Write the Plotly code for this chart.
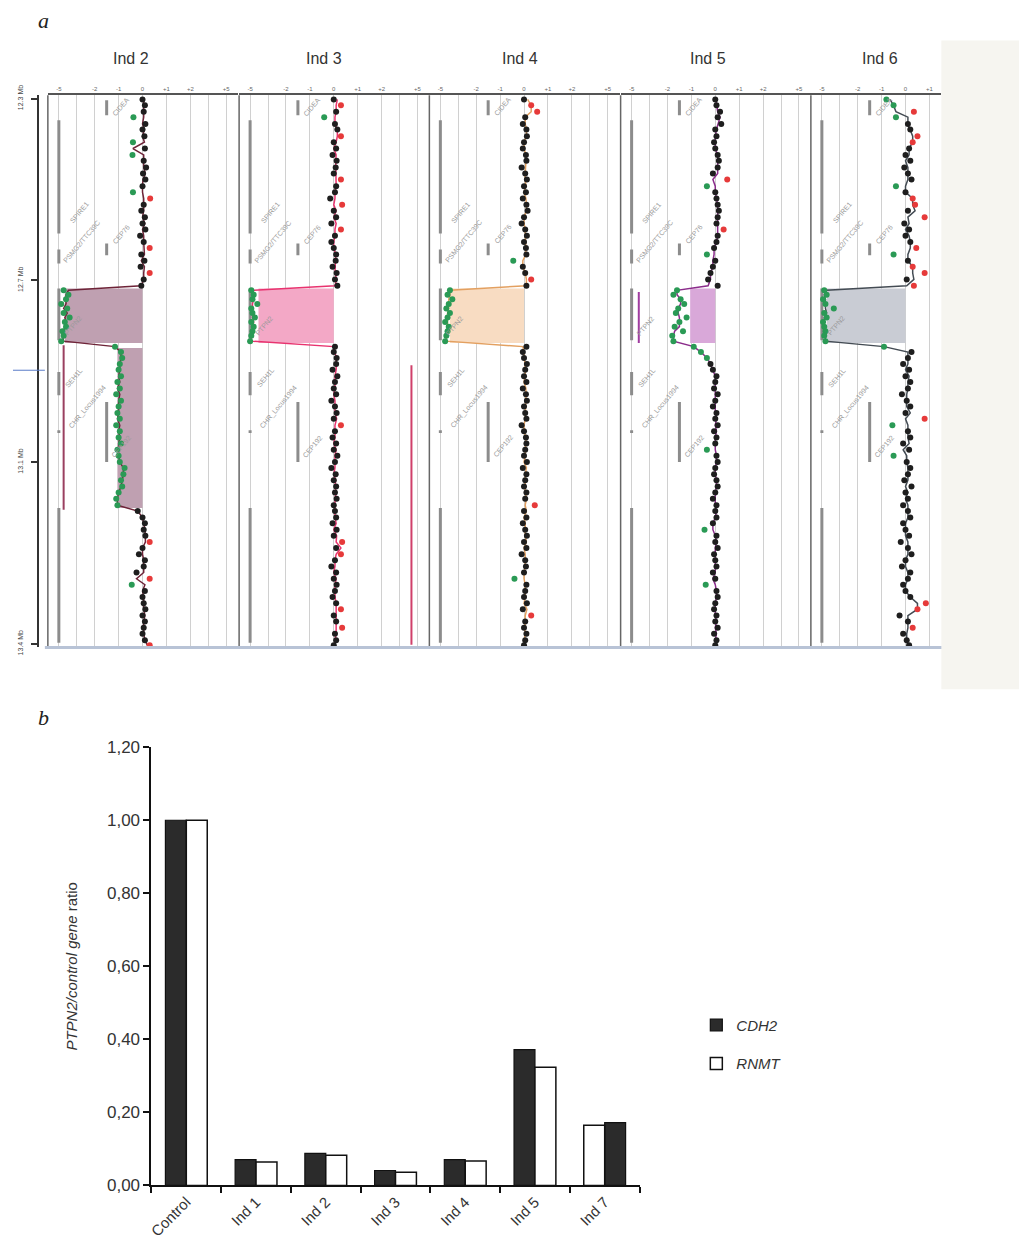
import plotly.graph_objects as go
import pandas as pd

W, H = 1027, 1256

# ---------------- Panel a data ----------------
ind_names = ["Ind 2", "Ind 3", "Ind 4", "Ind 5", "Ind 6"]

probe_mb = [
    12.302, 12.315, 12.329, 12.341, 12.356, 12.368, 12.383, 12.396, 12.410, 12.424, 12.437,
    12.452, 12.465, 12.478, 12.493, 12.506, 12.520, 12.534, 12.547, 12.561, 12.575, 12.588,
    12.602, 12.616, 12.629, 12.643, 12.657, 12.670, 12.684, 12.698, 12.712,
    12.722, 12.732, 12.742, 12.752, 12.762, 12.772, 12.782, 12.792, 12.802, 12.812, 12.822, 12.834,
    12.846, 12.858, 12.871, 12.884, 12.897, 12.911, 12.924, 12.938, 12.951, 12.965, 12.978,
    12.992, 13.005, 13.019, 13.032, 13.046, 13.059, 13.073, 13.086, 13.100, 13.113, 13.127,
    13.140, 13.154, 13.167, 13.181, 13.195,
    13.208, 13.222, 13.235, 13.249, 13.262, 13.276, 13.289, 13.303, 13.316, 13.330, 13.343,
    13.357, 13.370, 13.384, 13.397, 13.411, 13.424, 13.438, 13.451, 13.465, 13.478, 13.492, 13.503,
]

ratio_ind2 = [
    0.00, 0.10, 0.05, -0.38, 0.12, 0.00, 0.08, -0.40, 0.10, -0.42, 0.05, 0.15, 0.02, 0.12, 0.00, -0.40,
    0.32, 0.05, -0.05, 0.10, 0.00, 0.12, -0.10, 0.05, 0.30, -0.05, 0.08, -0.08, 0.30, 0.05, -0.05,
    -3.30, -3.10, -3.20, -3.40, -3.15, -3.30, -3.05, -3.25, -3.20, -3.35, -3.30, -3.40,
    -1.15, -0.90, -0.85, -0.95, -1.00, -0.90, -1.05, -0.95, -1.10, -0.90, -1.00, -1.05, -0.95, -1.10,
    -0.95, -1.00, -0.90, -1.05, -1.00, -0.95, -0.75, -0.80, -0.90, -0.85, -1.00, -1.10, -1.05,
    -0.20, 0.00, 0.10, 0.05, 0.12, 0.30, 0.00, -0.15, 0.10, 0.05, -0.25, 0.30, -0.45, 0.10, 0.00,
    0.05, 0.12, 0.00, 0.10, 0.05, 0.00, 0.10, 0.30,
]
ratio_ind3 = [
    0.00, 0.30, 0.10, -0.40, 0.05, 0.15, 0.30, 0.00, 0.10, -0.05, 0.12, 0.08, 0.00, 0.30, 0.10, 0.05,
    -0.15, 0.35, 0.00, 0.10, -0.10, 0.30, 0.05, -0.10, 0.00, 0.10, 0.08, -0.05, 0.12, 0.05, 0.15,
    -3.45, -3.35, -3.40, -3.20, -3.45, -3.40, -3.30, -3.45, -3.35, -3.40, -3.45, -3.50,
    0.05, 0.00, 0.12, 0.10, -0.05, 0.15, 0.05, 0.00, 0.10, -0.10, 0.05, 0.12, 0.00, 0.30, 0.05, -0.05,
    0.10, 0.00, 0.15, 0.05, -0.10, 0.08, 0.00, 0.10, 0.05, 0.12, 0.00,
    0.05, 0.10, -0.05, 0.12, 0.00, 0.35, 0.10, 0.30, 0.05, -0.10, 0.10, 0.00, 0.12, 0.05, -0.05, 0.10,
    0.30, 0.00, 0.10, 0.35, 0.05, 0.10, 0.00,
]
ratio_ind4 = [
    0.00, 0.30, 0.55, 0.05, -0.05, 0.10, 0.12, 0.00, -0.05, 0.08, 0.10, -0.10, 0.05, 0.12, 0.00, 0.08,
    -0.05, 0.10, 0.15, 0.00, -0.10, 0.05, 0.12, 0.00, 0.08, 0.10, -0.45, -0.05, 0.05, 0.30, 0.10,
    -3.10, -3.20, -3.00, -3.15, -3.25, -3.10, -3.20, -3.30, -3.15, -3.20, -3.25, -3.30,
    0.10, -0.05, 0.00, 0.12, 0.05, 0.00, 0.10, -0.05, 0.08, 0.12, 0.00, 0.05, 0.10, -0.10, 0.00, 0.08,
    0.10, 0.05, 0.00, 0.12, -0.05, 0.10, 0.05, 0.00, 0.10, 0.05, 0.45,
    0.00, 0.10, -0.05, 0.05, 0.12, 0.00, 0.10, -0.10, 0.05, 0.08, 0.00, -0.40, 0.10, 0.05, 0.00, 0.12,
    -0.05, 0.30, 0.05, 0.00, 0.10, 0.05, 0.00,
]
ratio_ind5 = [
    0.00, 0.05, 0.20, 0.10, 0.25, 0.00, 0.05, -0.05, 0.00, 0.10, 0.15, 0.10, -0.10, 0.50, -0.35, 0.00,
    0.05, 0.10, 0.15, 0.10, 0.05, 0.35, 0.10, 0.05, -0.05, -0.35, 0.00, -0.10, -0.20, -0.30, 0.10,
    -1.60, -1.75, -1.45, -1.30, -1.55, -1.65, -1.20, -1.50, -1.70, -1.35, -1.80, -1.75,
    -0.90, -0.60, -0.35, -0.20, -0.10, 0.05, 0.00, -0.05, 0.10, 0.00, -0.10, 0.05, 0.00, 0.10, -0.05,
    0.05, 0.00, -0.35, 0.05, 0.10, 0.00, -0.05, 0.05, 0.10, 0.00, -0.10, 0.05,
    0.00, 0.05, -0.10, -0.45, 0.05, 0.00, 0.10, -0.05, 0.00, 0.05, -0.10, 0.00, -0.40, 0.05, 0.10, 0.00,
    -0.05, 0.05, 0.00, 0.10, -0.05, 0.05, 0.00,
]
ratio_ind6 = [
    -0.80, -0.50, 0.35, -0.40, 0.10, 0.20, 0.50, 0.30, 0.15, 0.00, 0.20, -0.05, 0.10, 0.25, -0.40, 0.00,
    0.30, 0.40, 0.10, 0.80, -0.05, 0.15, 0.00, 0.20, 0.45, -0.50, 0.10, 0.30, 0.80, 0.05, 0.35,
    -3.40, -3.30, -3.45, -3.35, -3.00, -3.40, -3.30, -3.45, -3.40, -3.35, -3.40, -3.35,
    -0.90, 0.25, 0.10, -0.10, 0.15, 0.00, 0.20, 0.10, -0.15, 0.05, 0.20, 0.00, 0.80, -0.55, 0.10, 0.20,
    -0.10, 0.15, -0.50, 0.05, 0.20, 0.10, -0.05, 0.25, 0.00, 0.10, -0.10,
    0.10, 0.20, -0.10, 0.00, 0.15, -0.20, 0.10, 0.25, 0.00, -0.15, 0.20, 0.10, -0.10, 0.00, 0.20, 0.85,
    0.50, -0.25, 0.10, 0.30, -0.10, 0.05, 0.15,
]
ratios = {"Ind 2": ratio_ind2, "Ind 3": ratio_ind3, "Ind 4": ratio_ind4,
          "Ind 5": ratio_ind5, "Ind 6": ratio_ind6}

# aberration segments (start Mb, end Mb, shaded level)
seg_start = {"Ind 2": [12.718, 12.849], "Ind 3": [12.718], "Ind 4": [12.718],
             "Ind 5": [12.718], "Ind 6": [12.718]}
seg_end = {"Ind 2": [12.838, 13.201], "Ind 3": [12.838], "Ind 4": [12.838],
           "Ind 5": [12.838], "Ind 6": [12.838]}
seg_level = {"Ind 2": [-3.25, -1.05], "Ind 3": [-3.15], "Ind 4": [-3.1],
             "Ind 5": [-1.05], "Ind 6": [-3.3]}

# call bars (start, end, position)
call_start = {"Ind 2": [12.843], "Ind 3": [12.887], "Ind 5": [12.726]}
call_end = {"Ind 2": [13.205], "Ind 3": [13.502], "Ind 5": [12.838]}
call_pos = {"Ind 2": [-3.3], "Ind 3": [3.25], "Ind 5": [-3.2]}

# genes track
gene_names = ["CIDEA", "SPIRE1", "PSMG2/TTC39C", "CEP76", "PTPN2", "SEH1L",
              "CHR_Locus1994", "CEP192", "LDLRAD4"]
gene_start = [12.304, 12.348, 12.632, 12.619, 12.718, 12.902, 13.030, 12.968, 13.201]
gene_end = [12.337, 12.597, 12.663, 12.645, 12.832, 12.953, 13.036, 13.100, 13.498]
gene_track = [-1.5, -3.5, -3.5, -1.5, -3.5, -3.5, -3.5, -1.5, -3.5]
label_u = [-0.9, -2.65, -2.55, -0.9, -2.9, -2.85, -2.3, -0.9, None]
label_mb = [12.318, 12.551, 12.614, 12.599, 12.80, 12.915, 12.979, 13.065, None]

grid_u = [-3.5, -2.75, -2, -1, 0, 1, 2, 2.75, 3.5]
grid_text = ["-5", "", "-2", "-1", "0", "+1", "+2", "", "+5"]

pos_ticks = [12.3, 12.7, 13.1, 13.5]
pos_tick_text = ["12.3 Mb", "12.7 Mb", "13.1 Mb", "13.4 Mb"]
cursor_mb = 12.898

# ---------------- Panel b data ----------------
categories = ["Control", "Ind 1", "Ind 2", "Ind 3", "Ind 4", "Ind 5", "Ind 7"]
cdh2 = [1.00, 0.071, 0.088, 0.041, 0.071, 0.372, 0.172]
rnmt = [1.00, 0.064, 0.083, 0.036, 0.067, 0.324, 0.165]
swapped = ["Ind 7"]  # RNMT drawn first for these


# ---------------- layout helpers (page pixel -> paper fraction) ----------------
def X(px):
    return (px - 9) / W


def Y(px):
    return 1 - ((px - 18.5) / 0.985) / H


line_col = {"Ind 2": "#6e2438", "Ind 3": "#e8336f", "Ind 4": "#e3a060",
            "Ind 5": "#8b2c8b", "Ind 6": "#444c54"}
shade_col = {"Ind 2": "#bfa0b1", "Ind 3": "#f3a8c6", "Ind 4": "#f8dcc2",
             "Ind 5": "#d9a8d9", "Ind 6": "#c9ccd4"}
call_col = {"Ind 2": "#9a4060", "Ind 3": "#d0406a", "Ind 5": "#a03ca0"}
panel_px = [(45, 236), (237, 428), (428, 619), (620, 811), (811, 942)]
title_px = [128, 322, 519, 708, 880]
panel_range = [[-3.96, 4.0]] * 4 + [[-3.96, 1.5]]

fig = go.Figure()
layout = dict(width=W, height=H, margin=dict(l=0, r=0, t=0, b=0),
              paper_bgcolor="white", plot_bgcolor="rgba(0,0,0,0)",
              showlegend=True, separators=",.", autosize=False)

layout["yaxis"] = dict(domain=[Y(648), Y(95)], range=[13.508, 12.293], anchor="free",
                       position=X(35), showline=True, linecolor="#333", linewidth=1.5,
                       ticks="outside", ticklen=6, tickcolor="#333", tickwidth=1.5,
                       ticklabelstandoff=5,
                       tickvals=pos_ticks, ticktext=pos_tick_text, tickangle=-90,
                       tickfont=dict(size=7, color="#444", family="Liberation Sans"),
                       showgrid=False, zeroline=False)

shapes = []
annotations = []

shapes.append(dict(type="rect", xref="paper", yref="paper", x0=X(942), x1=1,
                   y0=Y(690), y1=Y(40), fillcolor="#f6f5f0",
                   line=dict(width=0), layer="below"))

for i, name in enumerate(ind_names):
    xa = "x" if i == 0 else f"x{i + 1}"
    xkey = "xaxis" if i == 0 else f"xaxis{i + 1}"
    x0p, x1p = panel_px[i]
    layout[xkey] = dict(domain=[X(x0p), X(x1p)], range=panel_range[i], anchor="y",
                        side="top", showline=True, linecolor="#555", linewidth=1.5,
                        tickvals=grid_u, ticktext=grid_text, ticks="",
                        tickfont=dict(size=6, color="#666", family="Liberation Sans"),
                        showgrid=True, gridcolor="#d0d0d0", gridwidth=1, zeroline=False)
    shapes.append(dict(type="line", xref=f"{xa} domain", yref="y domain",
                       x0=0, x1=0, y0=0, y1=1, line=dict(color="#666", width=1.5)))
    annotations.append(dict(text=name, xref="paper", yref="paper",
                            x=X(title_px[i]), y=Y(58), showarrow=False,
                            xanchor="center", yanchor="middle",
                            font=dict(size=16, color="#333", family="Liberation Sans")))

    for s, e, lv in zip(seg_start[name], seg_end[name], seg_level[name]):
        fig.add_trace(go.Scatter(x=[lv, 0, 0, lv, lv], y=[s, s, e, e, s], mode="lines",
                                 fill="toself", fillcolor=shade_col[name],
                                 line=dict(width=0), xaxis=xa, yaxis="y",
                                 hoverinfo="skip", showlegend=False))
    gx, gy = [], []
    for t, s, e in zip(gene_track, gene_start, gene_end):
        gx += [t, t, None]
        gy += [s, e, None]
    fig.add_trace(go.Scatter(x=gx, y=gy, mode="lines", line=dict(color="#8c8c8c", width=3),
                             xaxis=xa, yaxis="y", hoverinfo="skip", showlegend=False))
    for g, lu, lm in zip(gene_names, label_u, label_mb):
        if lu is None:
            continue
        annotations.append(dict(text=g, xref=xa, yref="y", x=lu, y=lm, showarrow=False,
                                textangle=-50,
                                font=dict(size=7, color="#9a9a9a", family="Liberation Sans")))
    if name in call_start:
        for s, e, p in zip(call_start[name], call_end[name], call_pos[name]):
            fig.add_trace(go.Scatter(x=[p, p], y=[s, e], mode="lines",
                                     line=dict(color=call_col[name], width=2),
                                     xaxis=xa, yaxis="y", hoverinfo="skip", showlegend=False))
    vals = ratios[name]
    smooth = pd.Series(vals).rolling(3, center=True, min_periods=1).median()
    fig.add_trace(go.Scatter(x=smooth, y=probe_mb, mode="lines",
                             line=dict(color=line_col[name], width=1.5),
                             xaxis=xa, yaxis="y", hoverinfo="skip", showlegend=False))
    cols = ["#2a9a55" if v < -0.3 else ("#e63a3a" if v > 0.28 else "#1e1e1e") for v in vals]
    fig.add_trace(go.Scatter(x=vals, y=probe_mb, mode="markers",
                             marker=dict(color=cols, size=6),
                             xaxis=xa, yaxis="y", showlegend=False))

shapes.append(dict(type="line", xref="paper", yref="y", x0=X(10), x1=X(42),
                   y0=cursor_mb, y1=cursor_mb, line=dict(color="#5a7cc8", width=1)))
shapes.append(dict(type="line", xref="paper", yref="paper", x0=X(42), x1=X(942),
                   y0=Y(648), y1=Y(648), line=dict(color="#b8c3d6", width=3)))

annotations.append(dict(text="<i>a</i>", xref="paper", yref="paper", x=X(33), y=Y(20),
                        xanchor="left", yanchor="middle", showarrow=False,
                        font=dict(size=22, color="#222", family="Liberation Serif")))
annotations.append(dict(text="<i>b</i>", xref="paper", yref="paper", x=X(33), y=Y(718),
                        xanchor="left", yanchor="middle", showarrow=False,
                        font=dict(size=22, color="#222", family="Liberation Serif")))

# ---------------- Panel b ----------------
bw = 0.3
off_cdh2 = [0.0 if c in swapped else -bw for c in categories]
off_rnmt = [-bw if c in swapped else 0.0 for c in categories]
fig.add_trace(go.Bar(x=categories, y=cdh2, name="<i>CDH2</i>", width=bw, offset=off_cdh2,
                     marker=dict(color="#2b2b2b", line=dict(color="#111", width=1.2)),
                     xaxis="x6", yaxis="y2", legendgroup="a"))
fig.add_trace(go.Bar(x=categories, y=rnmt, name="<i>RNMT</i>", width=bw, offset=off_rnmt,
                     marker=dict(color="white", line=dict(color="#111", width=1.5)),
                     xaxis="x6", yaxis="y2", legendgroup="b"))

layout["xaxis6"] = dict(domain=[X(149), X(639)], anchor="y2", range=[-0.5, 6.5],
                        showline=True, linecolor="#111", linewidth=2, ticks="outside",
                        ticklen=6, tickwidth=2, tickcolor="#111", tickson="boundaries",
                        tickangle=-45, showgrid=False,
                        tickfont=dict(size=15, color="#333", family="Liberation Sans"))
layout["yaxis2"] = dict(domain=[Y(1187), Y(748)], anchor="x6", range=[0, 1.2],
                        showline=True, linecolor="#111", linewidth=2, ticks="outside",
                        ticklen=6, tickwidth=2, tickcolor="#111",
                        tickvals=[0, 0.2, 0.4, 0.6, 0.8, 1.0, 1.2], tickformat=".2f",
                        showgrid=False, zeroline=False,
                        tickfont=dict(size=17, color="#333", family="Liberation Sans"),
                        title=dict(text="<i>PTPN2/control gene</i> ratio", standoff=26,
                                   font=dict(size=15, color="#333", family="Liberation Sans")))
layout["barmode"] = "overlay"
layout["legend"] = dict(x=X(696), y=Y(1010), xanchor="left", yanchor="top",
                        bgcolor="rgba(0,0,0,0)", tracegroupgap=16,
                        font=dict(size=15, color="#333", family="Liberation Sans"))
layout["shapes"] = shapes
layout["annotations"] = annotations

fig.update_layout(**layout)
fig.write_html("out.html")
